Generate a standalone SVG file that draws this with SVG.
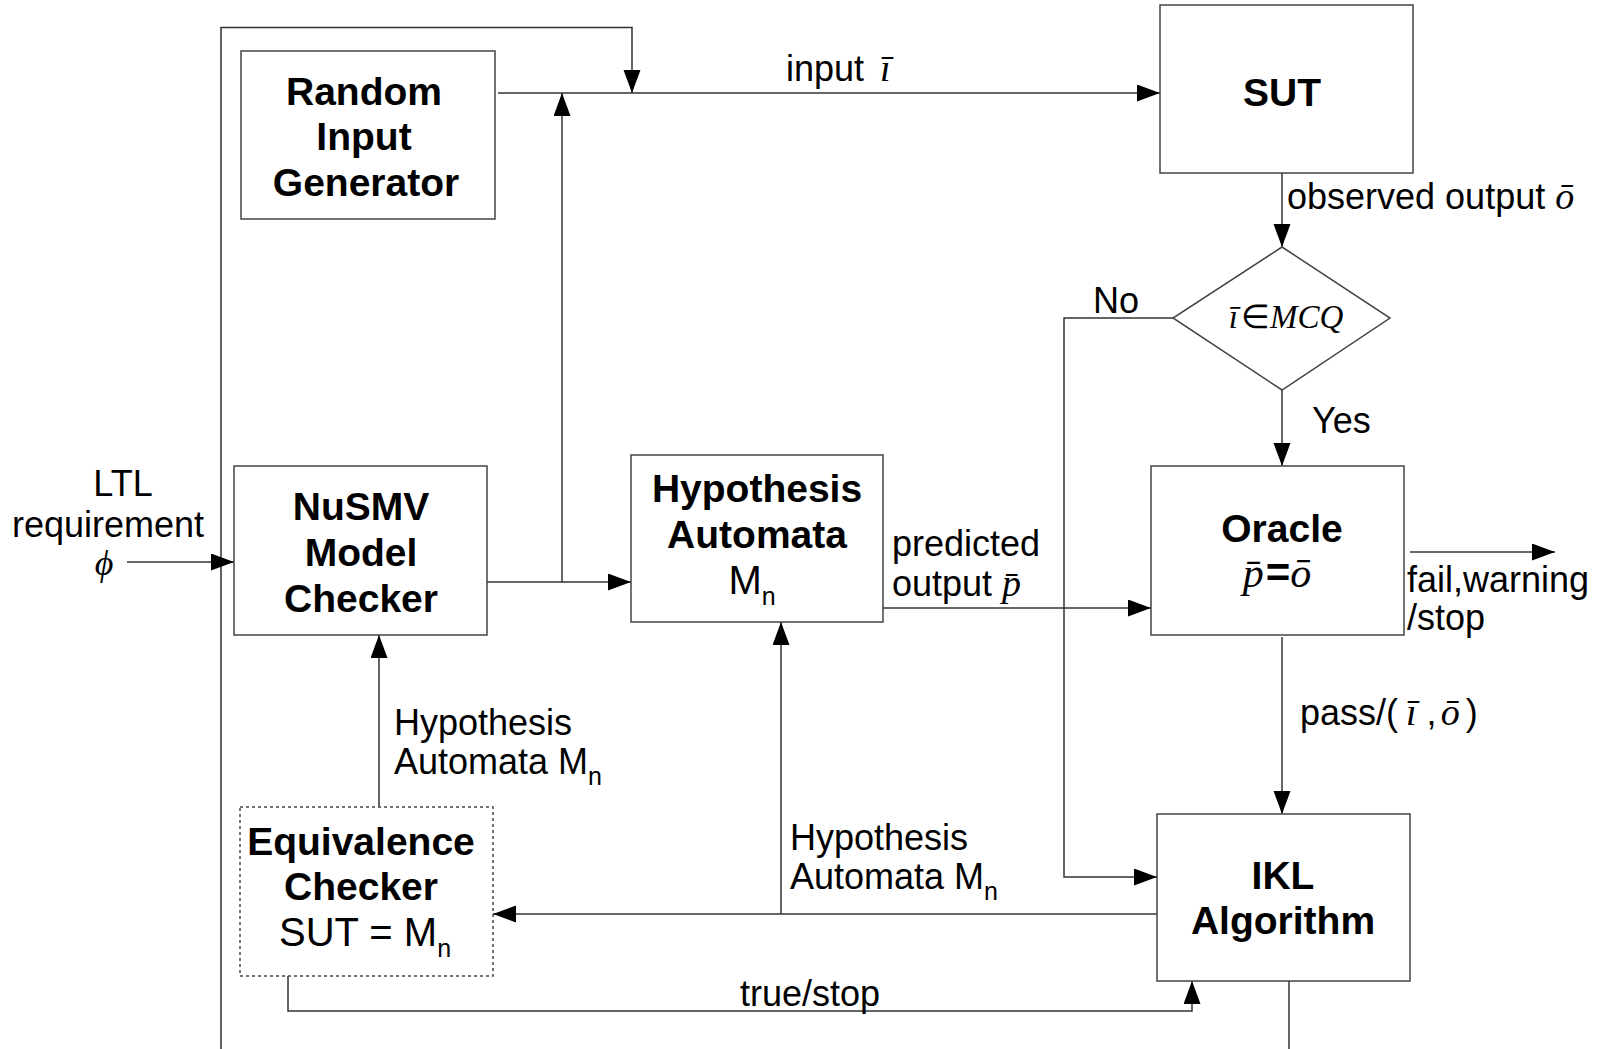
<svg xmlns="http://www.w3.org/2000/svg" width="1597" height="1049" viewBox="0 0 1597 1049">
<style>
.box{fill:#fff;stroke:#444;stroke-width:1.5}
.dot{stroke-dasharray:3 3}
.c{fill:none;stroke:#333;stroke-width:1.5}
.b{font-family:"Liberation Sans",Arial,sans-serif;font-weight:bold;font-size:39px;text-anchor:middle;fill:#000}
.rb{font-family:"Liberation Sans",Arial,sans-serif;font-size:40px;text-anchor:middle;fill:#000}
.r{font-family:"Liberation Sans",Arial,sans-serif;font-size:36px;fill:#000}
.m{font-family:"Liberation Serif","Times New Roman",serif;font-style:italic}
.sub{font-size:25px}
</style>
<defs>
<marker id="ah" markerUnits="userSpaceOnUse" markerWidth="24" markerHeight="18" refX="23" refY="8.5" orient="auto">
<path d="M0,0 L23,8.5 L0,17 z" fill="#000"/>
</marker>
</defs>
<rect width="1597" height="1049" fill="#fff"/>
<g id="connectors">
<path class="c" d="M221,1049 V27.5 H632 V93" marker-end="url(#ah)"/>
<path class="c" d="M498,93 H1160" marker-end="url(#ah)"/>
<path class="c" d="M487,582 H631" marker-end="url(#ah)"/>
<path class="c" d="M562,582 V93" marker-end="url(#ah)"/>
<path class="c" d="M127,562 H234" marker-end="url(#ah)"/>
<path class="c" d="M1282,173 V247" marker-end="url(#ah)"/>
<path class="c" d="M1282,390 V466" marker-end="url(#ah)"/>
<path class="c" d="M1173,318 H1064 V877 H1157" marker-end="url(#ah)"/>
<path class="c" d="M883,608 H1151" marker-end="url(#ah)"/>
<path class="c" d="M1410,552 H1555" marker-end="url(#ah)"/>
<path class="c" d="M1282,637 V814" marker-end="url(#ah)"/>
<path class="c" d="M1157,914 H493" marker-end="url(#ah)"/>
<path class="c" d="M781,914 V622" marker-end="url(#ah)"/>
<path class="c" d="M379,807 V635" marker-end="url(#ah)"/>
<path class="c" d="M288,976 V1011 H1192 V981" marker-end="url(#ah)"/>
<path class="c" d="M1289,981 V1049"/>
</g>
<g id="labels">
<text class="r" x="786" y="81">input <tspan class="m" dx="6" font-size="38">ī</tspan></text>
<text class="r" x="1287" y="209">observed output <tspan class="m" font-size="38">ō</tspan></text>
<text class="r" x="1093" y="313">No</text>
<text class="r" x="1312" y="433">Yes</text>
<text class="r" x="123" y="496" text-anchor="middle">LTL</text>
<text class="r" x="108" y="537" text-anchor="middle">requirement</text>
<text class="r m" x="104" y="575" text-anchor="middle" font-size="38">ϕ</text>
<text class="r" x="892" y="556">predicted</text>
<text class="r" x="892" y="596">output <tspan class="m" font-size="38">p̄</tspan></text>
<text class="r" x="1407" y="592">fail,warning</text>
<text class="r" x="1407" y="630">/stop</text>
<text class="r" x="1300" y="725">pass/(<tspan class="m" dx="8" font-size="38">ī</tspan><tspan dx="10">,</tspan><tspan class="m" dx="4" font-size="38">ō</tspan><tspan dx="6">)</tspan></text>
<text class="r" x="394" y="735">Hypothesis</text>
<text class="r" x="394" y="774">Automata M<tspan class="sub" dy="11">n</tspan></text>
<text class="r" x="790" y="850">Hypothesis</text>
<text class="r" x="790" y="889">Automata M<tspan class="sub" dy="11">n</tspan></text>
<text class="r" x="810" y="1006" text-anchor="middle">true/stop</text>
</g>
<g id="random">
<rect class="box" x="241" y="51" width="254" height="168"/>
<text class="b" x="364" y="105">Random</text>
<text class="b" x="364" y="150">Input</text>
<text class="b" x="366" y="196">Generator</text>
</g>
<g id="sut">
<rect class="box" x="1160" y="5" width="253" height="168"/>
<text class="b" x="1282" y="106">SUT</text>
</g>
<g id="decision">
<polygon class="box" points="1282,247 1390,318 1282,390 1173,318"/>
<text class="m" x="1286" y="328" font-size="33" text-anchor="middle">ī<tspan font-style="normal" dx="3">∈</tspan>MCQ</text>
</g>
<g id="nusmv">
<rect class="box" x="234" y="466" width="253" height="169"/>
<text class="b" x="361" y="520">NuSMV</text>
<text class="b" x="361" y="566">Model</text>
<text class="b" x="361" y="612">Checker</text>
</g>
<g id="hypothesis">
<rect class="box" x="631" y="455" width="252" height="167"/>
<text class="b" x="757" y="502">Hypothesis</text>
<text class="b" x="757" y="548">Automata</text>
<text class="rb" x="752" y="594">M<tspan class="sub" dy="11">n</tspan></text>
</g>
<g id="oracle">
<rect class="box" x="1151" y="466" width="253" height="169"/>
<text class="b" x="1282" y="542">Oracle</text>
<text class="m" x="1277" y="587" font-size="42" text-anchor="middle">p̄<tspan font-style="normal" font-weight="bold" font-family="Liberation Sans, sans-serif" dx="2">=</tspan>ō</text>
</g>
<g id="equivalence">
<rect class="box dot" x="240" y="807" width="253" height="169"/>
<text class="b" x="361" y="855">Equivalence</text>
<text class="b" x="361" y="900">Checker</text>
<text class="rb" x="365" y="946">SUT = M<tspan class="sub" dy="11">n</tspan></text>
</g>
<g id="ikl">
<rect class="box" x="1157" y="814" width="253" height="167"/>
<text class="b" x="1283" y="889">IKL</text>
<text class="b" x="1283" y="934">Algorithm</text>
</g>
</svg>
